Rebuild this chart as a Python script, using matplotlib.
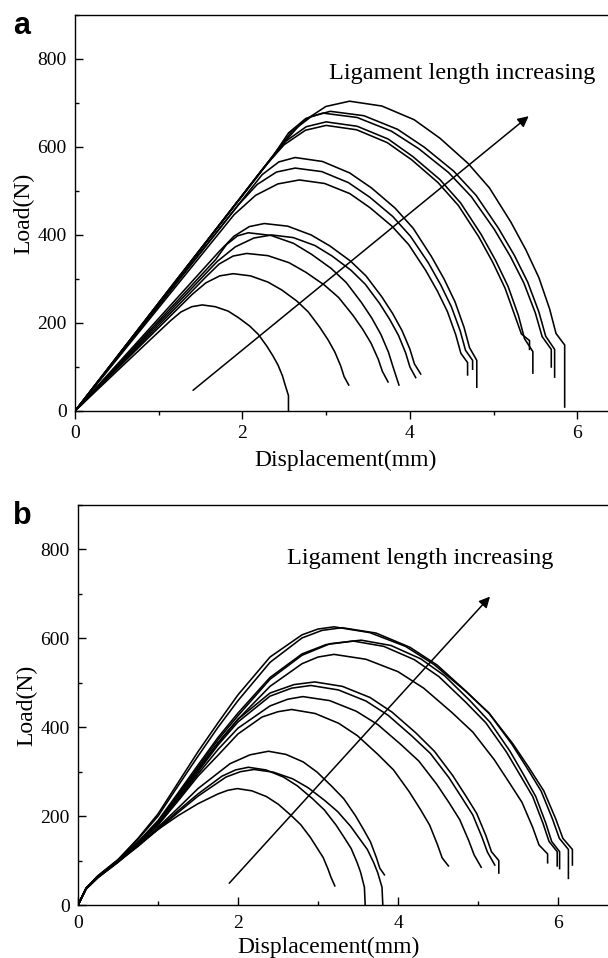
"""Load-displacement curves of the ligament series, panels a and b."""

import matplotlib
matplotlib.use("Agg")
import matplotlib.pyplot as plt
from matplotlib.ticker import MultipleLocator

# Panel a: displacement (mm) and load (N) of each specimen
disp_a = [
    [0, 0.57, 1.14, 1.265, 1.395, 1.52, 1.675, 1.829, 1.953, 2.087, 2.19, 2.293, 2.365, 2.426, 2.478, 2.509, 2.55, 2.55],
    [0, 0.70, 1.40, 1.562, 1.728, 1.89, 2.097, 2.304, 2.47, 2.649, 2.787, 2.925, 3.022, 3.104, 3.173, 3.215, 3.27],
    [0, 0.78, 1.56, 1.722, 1.888, 2.05, 2.304, 2.557, 2.76, 2.98, 3.149, 3.318, 3.436, 3.537, 3.622, 3.672, 3.74],
    [0, 0.84, 1.68, 1.809, 1.941, 2.07, 2.34, 2.61, 2.826, 3.06, 3.24, 3.42, 3.546, 3.654, 3.744, 3.798, 3.87],
    [0, 0.85, 1.70, 1.915, 2.136, 2.35, 2.608, 2.866, 3.072, 3.296, 3.468, 3.64, 3.76, 3.864, 3.95, 4.001, 4.07],
    [0, 0.86, 1.72, 1.898, 2.082, 2.26, 2.541, 2.821, 3.045, 3.289, 3.476, 3.663, 3.793, 3.906, 4.0, 4.055, 4.13],
    [0, 1.02, 2.04, 2.235, 2.435, 2.63, 2.956, 3.281, 3.541, 3.824, 4.041, 4.258, 4.409, 4.54, 4.648, 4.713, 4.80, 4.80],
    [0, 0.98, 1.955, 2.178, 2.407, 2.63, 2.948, 3.266, 3.52, 3.796, 4.008, 4.22, 4.368, 4.496, 4.602, 4.665, 4.75, 4.75],
    [0, 0.95, 1.90, 2.157, 2.423, 2.68, 2.982, 3.283, 3.524, 3.786, 3.987, 4.188, 4.328, 4.449, 4.549, 4.61, 4.69, 4.69],
    [0, 1.22, 2.44, 2.717, 2.997, 3.28, 3.666, 4.051, 4.359, 4.694, 4.951, 5.208, 5.387, 5.542, 5.67, 5.747, 5.85, 5.85],
    [0, 1.18, 2.36, 2.588, 2.822, 3.05, 3.452, 3.854, 4.176, 4.524, 4.792, 5.06, 5.248, 5.408, 5.542, 5.623, 5.73, 5.73],
    [0, 1.17, 2.35, 2.551, 2.759, 2.96, 3.37, 3.779, 4.107, 4.462, 4.735, 5.008, 5.199, 5.362, 5.499, 5.581, 5.69, 5.69],
    [0, 1.14, 2.28, 2.518, 2.762, 3.0, 3.371, 3.741, 4.037, 4.359, 4.606, 4.853, 5.025, 5.174, 5.297, 5.371, 5.47, 5.47],
    [0, 1.13, 2.25, 2.498, 2.753, 3.0, 3.365, 3.729, 4.021, 4.337, 4.58, 4.823, 4.993, 5.138, 5.26, 5.333, 5.43, 5.43],
]
load_a = [
    [0, 103, 205, 225, 237, 241, 237, 227, 212, 193, 174, 147, 125, 104, 80, 60, 35, 0],
    [0, 133, 265, 291, 307, 312, 307, 293, 275, 250, 225, 190, 162, 134, 103, 78, 59],
    [0, 152, 304, 334, 352, 358, 353, 337, 315, 286, 258, 218, 186, 154, 118, 90, 66],
    [0, 172, 344, 378, 398, 405, 399, 381, 356, 324, 292, 247, 211, 174, 134, 101, 59],
    [0, 170, 340, 373, 393, 400, 394, 376, 352, 320, 288, 244, 208, 172, 132, 100, 76],
    [0, 181, 362, 397, 419, 426, 420, 400, 375, 341, 307, 260, 222, 183, 141, 107, 84],
    [0, 245, 490, 537, 566, 576, 567, 541, 507, 461, 415, 351, 300, 248, 190, 144, 115, 54],
    [0, 235, 469, 515, 543, 552, 544, 519, 486, 442, 397, 337, 287, 237, 182, 138, 115, 95],
    [0, 223, 446, 490, 516, 525, 517, 494, 462, 420, 378, 320, 273, 226, 173, 131, 110, 82],
    [0, 299, 598, 657, 692, 704, 693, 662, 620, 563, 507, 429, 366, 303, 232, 176, 150, 9],
    [0, 290, 579, 635, 669, 681, 671, 640, 599, 545, 490, 415, 354, 293, 225, 170, 140, 77],
    [0, 288, 575, 632, 665, 677, 667, 636, 596, 542, 487, 413, 352, 291, 223, 169, 140, 100],
    [0, 279, 558, 613, 646, 657, 647, 618, 578, 526, 473, 401, 342, 283, 217, 164, 135, 86],
    [0, 276, 552, 605, 638, 649, 639, 610, 571, 519, 467, 396, 337, 279, 214, 175, 160, 140],
]

# Panel b
disp_b = [
    [0, 0.1, 0.25, 0.5, 0.75, 1.0, 1.25, 1.5, 1.75, 1.87, 1.99,
     2.173, 2.356, 2.502, 2.661, 2.783, 2.905, 2.99, 3.064, 3.125, 3.161, 3.21],
    [0, 0.1, 0.25, 0.5, 0.75, 1.0, 1.25, 1.5, 1.8, 1.97, 2.13,
     2.349, 2.568, 2.743, 2.933, 3.079, 3.225, 3.327, 3.415, 3.488, 3.532, 3.58, 3.59],
    [0, 0.1, 0.25, 0.5, 0.75, 1.0, 1.25, 1.5, 1.85, 2.03, 2.2,
     2.442, 2.683, 2.876, 3.086, 3.247, 3.408, 3.52, 3.617, 3.697, 3.746, 3.80, 3.81],
    [0, 0.1, 0.25, 0.5, 0.75, 1.0, 1.25, 1.5, 1.9, 2.15, 2.38,
     2.598, 2.815, 2.989, 3.178, 3.323, 3.468, 3.569, 3.656, 3.729, 3.772, 3.83],
    [0, 0.1, 0.25, 0.5, 0.75, 1.0, 1.25, 1.5, 1.75, 2.0, 2.3, 2.5, 2.67,
     2.964, 3.258, 3.493, 3.748, 3.944, 4.14, 4.277, 4.395, 4.493, 4.552, 4.63],
    [0, 0.1, 0.25, 0.5, 0.75, 1.0, 1.25, 1.5, 1.75, 2.0, 2.4, 2.62, 2.81,
     3.145, 3.479, 3.747, 4.037, 4.26, 4.483, 4.639, 4.772, 4.884, 4.951, 5.04],
    [0, 0.1, 0.25, 0.5, 0.75, 1.0, 1.25, 1.5, 1.75, 2.0, 2.4, 2.67, 2.91,
     3.255, 3.60, 3.876, 4.175, 4.405, 4.635, 4.796, 4.934, 5.049, 5.118, 5.21],
    [0, 0.1, 0.25, 0.5, 0.75, 1.0, 1.25, 1.5, 1.75, 2.0, 2.4, 2.7, 2.96,
     3.305, 3.65, 3.926, 4.225, 4.455, 4.685, 4.846, 4.984, 5.099, 5.168, 5.26, 5.26],
    [0, 0.1, 0.25, 0.5, 0.75, 1.0, 1.25, 1.5, 1.75, 2.0, 2.4, 2.8, 3.0, 3.2,
     3.60, 4.001, 4.321, 4.669, 4.936, 5.203, 5.389, 5.55, 5.683, 5.763, 5.87, 5.87],
    [0, 0.1, 0.25, 0.5, 0.75, 1.0, 1.25, 1.5, 1.75, 2.0, 2.4, 2.8, 3.1, 3.44,
     3.823, 4.205, 4.511, 4.843, 5.098, 5.353, 5.531, 5.684, 5.812, 5.888, 5.99, 5.99],
    [0, 0.1, 0.25, 0.5, 0.75, 1.0, 1.25, 1.5, 1.75, 2.0, 2.4, 2.8, 3.15, 3.54,
     3.912, 4.284, 4.582, 4.904, 5.152, 5.40, 5.574, 5.722, 5.846, 5.921, 6.02, 6.02],
    [0, 0.1, 0.25, 0.5, 0.75, 1.0, 1.25, 1.5, 1.75, 2.0, 2.4, 2.8, 3.05, 3.3,
     3.725, 4.149, 4.489, 4.857, 5.14, 5.423, 5.621, 5.79, 5.932, 6.017, 6.13, 6.13],
    [0, 0.1, 0.25, 0.5, 0.75, 1.0, 1.25, 1.5, 1.75, 2.0, 2.4, 2.8, 3.0, 3.2,
     3.647, 4.094, 4.452, 4.839, 5.137, 5.435, 5.644, 5.822, 5.971, 6.061, 6.18, 6.18],
]
load_b = [
    [0, 36, 62, 96, 135, 170, 201, 228, 250, 258, 262,
     257, 244, 227, 202, 181, 152, 128, 107, 81, 63, 43],
    [0, 36, 62, 97, 133, 172, 212, 250, 290, 304, 310,
     304, 288, 268, 239, 214, 180, 152, 127, 96, 74, 40, 0],
    [0, 36, 62, 97, 132, 170, 208, 245, 288, 300, 305,
     299, 284, 264, 235, 210, 177, 149, 125, 95, 73, 40, 0],
    [0, 36, 63, 98, 135, 175, 218, 262, 318, 338, 346,
     339, 322, 299, 266, 239, 201, 170, 142, 107, 83, 68],
    [0, 37, 64, 100, 138, 180, 234, 290, 337, 385, 423, 435, 440,
     431, 409, 381, 339, 304, 255, 216, 180, 136, 106, 88],
    [0, 37, 64, 100, 138, 180, 237, 295, 350, 398, 448, 463, 469,
     460, 436, 406, 361, 324, 272, 230, 192, 145, 113, 85],
    [0, 37, 64, 100, 140, 182, 240, 300, 360, 412, 470, 488, 494,
     484, 459, 427, 380, 341, 287, 242, 203, 153, 119, 90],
    [0, 37, 64, 100, 141, 185, 245, 305, 365, 418, 477, 496, 502,
     492, 467, 434, 387, 346, 291, 246, 206, 156, 120, 100, 72],
    [0, 37, 64, 100, 140, 185, 245, 305, 365, 418, 492, 543, 558, 564,
     553, 525, 488, 434, 389, 327, 276, 231, 175, 135, 115, 95],
    [0, 37, 64, 100, 142, 190, 252, 315, 377, 432, 512, 565, 586, 594,
     582, 552, 514, 457, 410, 345, 291, 244, 184, 143, 120, 88],
    [0, 37, 64, 100, 141, 188, 248, 310, 372, 426, 508, 562, 588, 596,
     584, 554, 516, 459, 411, 346, 292, 244, 185, 143, 120, 82],
    [0, 38, 66, 102, 148, 200, 268, 335, 400, 460, 546, 601, 618, 624,
     612, 580, 540, 480, 431, 362, 306, 256, 193, 150, 125, 60],
    [0, 38, 66, 102, 150, 205, 275, 345, 410, 473, 558, 608, 621, 626,
     613, 582, 541, 482, 432, 363, 307, 257, 194, 150, 125, 90],
]

# arrow (tail, head) and annotation text
arrow_a = [(1.41, 47), (5.42, 670)]
arrow_b = [(1.89, 49), (5.15, 694)]
note = "Ligament length increasing"
note_a = (3.03, 755)
note_b = (2.61, 768)

SERIF = ["Liberation Serif", "DejaVu Serif"]
FIG_H = 958


def draw_panel(ax, disp, load, arrow, note_xy, letter, xmax, xtick_dir, xpad,
               xlabel_x, xlabel_pad):
    for x, y in zip(disp, load):
        ax.plot(x, y, color="black", linewidth=1.15, solid_joinstyle="round")

    ax.annotate(
        "", xy=arrow[1], xytext=arrow[0],
        arrowprops=dict(arrowstyle="-|>", color="black", lw=1.1,
                        mutation_scale=16, shrinkA=0, shrinkB=0),
    )
    ax.text(note_xy[0], note_xy[1], note, fontsize=17.5, family=SERIF,
            ha="left", va="baseline")

    ax.set_xlim(0, xmax)
    ax.set_ylim(0, 900)
    ax.xaxis.set_major_locator(MultipleLocator(2))
    ax.xaxis.set_minor_locator(MultipleLocator(1))
    ax.yaxis.set_minor_locator(MultipleLocator(100))
    ax.set_yticks([0, 200, 400, 600, 800])

    ax.tick_params(axis="x", which="major", direction=xtick_dir, length=6,
                   width=1, pad=xpad, labelsize=14)
    ax.tick_params(axis="x", which="minor", direction=xtick_dir, length=3,
                   width=1)
    ax.tick_params(axis="y", which="major", direction="in", length=6,
                   width=1, pad=6, labelsize=14)
    ax.tick_params(axis="y", which="minor", direction="in", length=3, width=1)
    for lab in ax.get_xticklabels() + ax.get_yticklabels():
        lab.set_family(SERIF)

    # the axes run past the right edge, so the x label sits left of centre
    ax.set_xlabel("Displacement(mm)", fontsize=17, family=SERIF,
                  labelpad=xlabel_pad, x=xlabel_x)
    ax.set_ylabel("Load(N)", fontsize=17, family=SERIF, labelpad=2)
    for side in ["top", "left", "bottom", "right"]:
        ax.spines[side].set_linewidth(1.0)

    # panel letter, baseline about 19 px below the top spine
    pos = ax.get_position()
    ax.figure.text(0.021, pos.y1 - 19 / FIG_H, letter, fontsize=22,
                   fontweight="bold", family=["Liberation Sans", "DejaVu Sans"],
                   va="baseline", ha="left")


fig = plt.figure(figsize=(6.08, 9.58), dpi=100)
ax_a = fig.add_axes([0.1234, 0.5710, 0.95, 0.4134])
ax_b = fig.add_axes([0.1283, 0.0553, 0.95, 0.4175])

draw_panel(ax_a, disp_a, load_a, arrow_a, note_a, "a", 0.95 * 608 / 83.7,
           "out", 4, 0.469, 6)
draw_panel(ax_b, disp_b, load_b, arrow_b, note_b, "b", 0.95 * 608 / 80.0,
           "in", 7, 0.434, 4)

fig.savefig("out.png", dpi=100)
